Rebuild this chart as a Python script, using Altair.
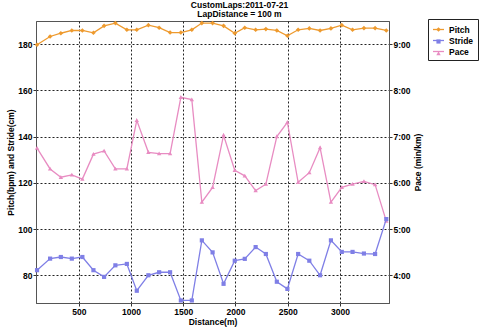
import altair as alt
import pandas as pd

# ---- data ----
distance = [100, 225, 328, 433, 534, 640, 742, 850, 960, 1055, 1166, 1269, 1374, 1477, 1582, 1678,
            1781, 1886, 1993, 2089, 2193, 2291, 2396, 2497, 2600, 2707, 2810, 2914, 3018, 3121,
            3230, 3337, 3444]
pitch = [179.7, 183.3, 184.7, 185.9, 185.9, 184.9, 187.9, 189.1, 186.2, 186.2, 188.2, 187.1, 185.0,
         185.0, 186.2, 189.1, 189.1, 187.9, 184.7, 187.1, 186.2, 186.5, 185.9, 183.6, 186.2, 186.8,
         185.9, 186.8, 188.2, 186.2, 186.9, 186.9, 185.9]
stride = [82.2, 87.2, 87.9, 87.2, 87.9, 82.2, 79.3, 84.3, 84.9, 73.3, 80.0, 81.3, 81.3, 69.1, 69.1,
          95.1, 89.9, 76.3, 86.3, 87.1, 92.2, 89.2, 77.2, 74.1, 89.2, 86.3, 80.0, 95.1, 90.1, 90.1,
          89.4, 89.2, 104.3]
pace = [6.75, 6.30, 6.12, 6.17, 6.08, 6.62, 6.69, 6.30, 6.30, 7.35, 6.66, 6.63, 6.63, 7.85, 7.80,
        5.58, 5.90, 7.03, 6.27, 6.15, 5.83, 5.97, 7.00, 7.31, 6.01, 6.22, 6.76, 5.58, 5.90, 5.97,
        6.03, 5.96, 5.17]

series_names = ["Pitch", "Stride", "Pace"]
series_colors = ["#EE9A2E", "#7F7FE6", "#E88CC2"]
marker_paths = [
    "M0,-0.42L0.42,0L0,0.42L-0.42,0Z",
    "M-0.38,-0.38L0.38,-0.38L0.38,0.38L-0.38,0.38Z",
    "M0,-0.4L0.4,0.3L-0.4,0.3Z",
]
x_ticks = [500, 1000, 1500, 2000, 2500, 3000]
left_ticks = [80, 100, 120, 140, 160, 180]
right_ticks = [4, 5, 6, 7, 8, 9]

df_ps = pd.DataFrame({
    "distance": distance * 2,
    "series": ["Pitch"] * len(pitch) + ["Stride"] * len(stride),
    "value": pitch + stride,
})
df_pace = pd.DataFrame({"distance": distance, "series": ["Pace"] * len(pace), "pace": pace})

FONT = "Liberation Sans"

x_enc = alt.X(
    "distance:Q",
    scale=alt.Scale(domain=[90, 3470], nice=False, zero=False),
    axis=alt.Axis(values=x_ticks, title="Distance(m)", grid=True, format="d"),
)

legend_common = dict(
    title=None, orient="none", legendX=392, legendY=-2, symbolSize=121, padding=4,
    rowPadding=0, labelFont=FONT, labelFontSize=8.5, labelFontWeight="bold",
    labelColor="black", labelOffset=4,
)
line_legend = alt.Legend(symbolType="stroke", symbolStrokeWidth=1.3, strokeColor="#222",
                         fillColor="white", **legend_common)
pt_legend = alt.Legend(labelExpr="''", **legend_common)

color_enc = alt.Color("series:N", scale=alt.Scale(domain=series_names, range=series_colors),
                      legend=line_legend)
fill_enc = alt.Fill("k:O", scale=alt.Scale(domain=[0, 1, 2], range=series_colors), legend=pt_legend)
shape_enc = alt.Shape("k:O", scale=alt.Scale(domain=[0, 1, 2], range=marker_paths), legend=pt_legend)
k_expr = "indexof(['Pitch','Stride','Pace'], datum.series)"

y_left = alt.Y(
    "value:Q",
    scale=alt.Scale(domain=[68, 190], nice=False, zero=False),
    axis=alt.Axis(values=left_ticks, title="Pitch(bpm) and Stride(cm)", orient="left", grid=True),
)
y_right = alt.Y(
    "pace:Q",
    scale=alt.Scale(domain=[3.4, 9.5], nice=False, zero=False),
    axis=alt.Axis(values=right_ticks, labelExpr="datum.value + ':00'", orient="right",
                  grid=False, title="Pace (min/km)", titleAngle=270, titleBaseline="top",
                  titlePadding=3),
)

pace_line = alt.Chart(df_pace).mark_line(strokeWidth=1.3).encode(x=x_enc, y=y_right, color=color_enc)
pace_pts = alt.Chart(df_pace).transform_calculate(k=k_expr).mark_point(
    filled=True, size=121, opacity=1, strokeWidth=0
).encode(x=x_enc, y=y_right, fill=fill_enc, shape=shape_enc)

ps_line = alt.Chart(df_ps).mark_line(strokeWidth=1.3).encode(
    x=x_enc, y=y_left, color=color_enc, detail="series:N")
ps_pts = alt.Chart(df_ps).transform_calculate(k=k_expr).mark_point(
    filled=True, size=121, opacity=1, strokeWidth=0
).encode(x=x_enc, y=y_left, fill=fill_enc, shape=shape_enc)

chart = alt.layer(
    alt.layer(pace_line, pace_pts),
    alt.layer(ps_line, ps_pts),
).resolve_scale(y="independent").properties(
    width=353,
    height=282,
    autosize="none",
    padding={"left": 36, "top": 21, "right": 91, "bottom": 25},
    background="white",
    title=alt.TitleParams(
        text=["CustomLaps:2011-07-21", "LapDistance = 100 m"],
        anchor="middle", frame="group", dx=27, offset=0,
        font=FONT, fontSize=8.5, fontWeight="bold", color="black", lineHeight=9,
    ),
).configure_view(
    stroke="#555", strokeWidth=1
).configure_axis(
    labelFont=FONT, labelFontSize=8.5, labelFontWeight="bold", labelColor="black",
    titleFont=FONT, titleFontSize=8.5, titleFontWeight="bold", titleColor="black",
    tickSize=3, tickColor="#333", domainColor="#555", gridColor="#222",
    gridDash=[2, 2], gridOpacity=1, labelPadding=1, titlePadding=2,
)

chart.save("out.html", embed_options={"renderer": "svg", "actions": False})
